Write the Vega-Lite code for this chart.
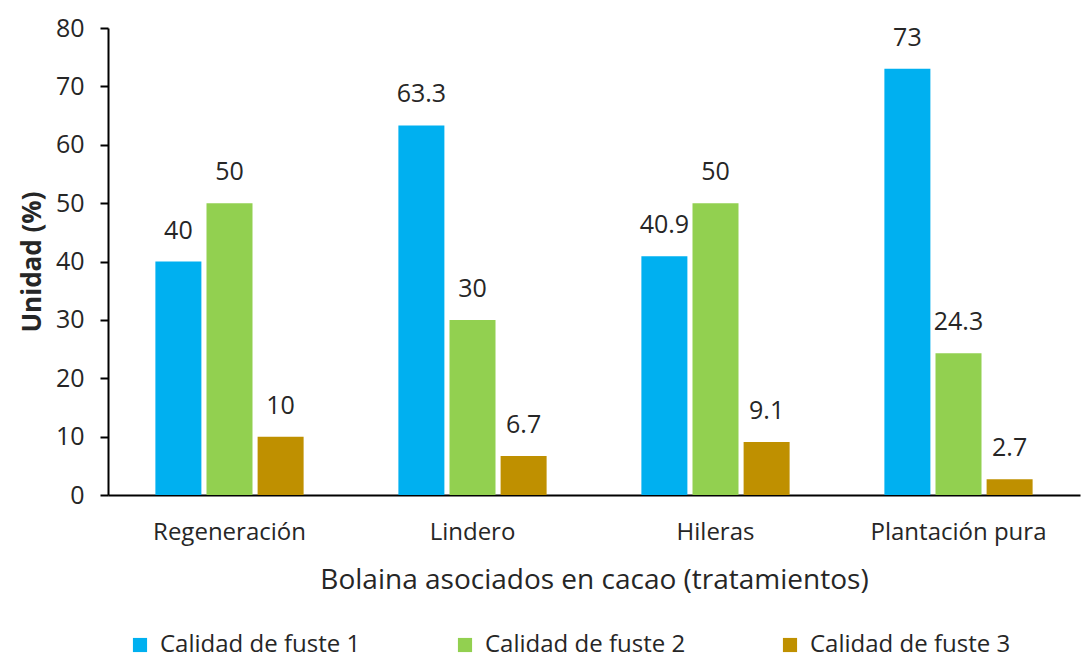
{
  "$schema": "https://vega.github.io/schema/vega-lite/v6.json",
  "width": 972,
  "height": 467,
  "autosize": {"type": "none"},
  "padding": {"left": 108, "top": 28, "right": 6, "bottom": 164},
  "background": "white",
  "config": {
    "font": "Open Sans",
    "view": {"stroke": null},
    "axis": {"labelFont": "Open Sans", "titleFont": "Open Sans", "labelColor": "#262626", "titleColor": "#262626", "titleFontWeight": "normal", "grid": false, "domainColor": "#000000", "tickColor": "#000000", "domainWidth": 2, "tickWidth": 2},
    "legend": {"labelFont": "Open Sans"}
  },
  "data": {
    "values": [
      {"trat": "Regeneración", "serie": "Calidad de fuste 1", "valor": 40},
      {"trat": "Regeneración", "serie": "Calidad de fuste 2", "valor": 50},
      {"trat": "Regeneración", "serie": "Calidad de fuste 3", "valor": 10},
      {"trat": "Lindero", "serie": "Calidad de fuste 1", "valor": 63.3},
      {"trat": "Lindero", "serie": "Calidad de fuste 2", "valor": 30},
      {"trat": "Lindero", "serie": "Calidad de fuste 3", "valor": 6.7},
      {"trat": "Hileras", "serie": "Calidad de fuste 1", "valor": 40.9},
      {"trat": "Hileras", "serie": "Calidad de fuste 2", "valor": 50},
      {"trat": "Hileras", "serie": "Calidad de fuste 3", "valor": 9.1},
      {"trat": "Plantación pura", "serie": "Calidad de fuste 1", "valor": 73},
      {"trat": "Plantación pura", "serie": "Calidad de fuste 2", "valor": 24.3},
      {"trat": "Plantación pura", "serie": "Calidad de fuste 3", "valor": 2.7}
    ]
  },
  "encoding": {
    "x": {
      "field": "trat", "type": "nominal", "sort": null,
      "scale": {"paddingInner": 0.39, "paddingOuter": 0.195},
      "axis": {"title": "Bolaina asociados en cacao (tratamientos)", "labelAngle": 0, "labelFontSize": 24, "labelLimit": 400, "titleFontSize": 28, "ticks": false, "labelPadding": 25, "titlePadding": 22}
    },
    "xOffset": {"field": "serie", "type": "nominal", "scale": {"paddingInner": 0.1}},
    "y": {
      "field": "valor", "type": "quantitative",
      "scale": {"domain": [0, 80]},
      "axis": {"title": "Unidad (%)", "titleFontWeight": "bold", "values": [0,10,20,30,40,50,60,70,80], "labelFontSize": 25, "titleFontSize": 26, "tickSize": 8, "labelPadding": 16, "titlePadding": 10}
    }
  },
  "layer": [
    {
      "mark": {"type": "bar"},
      "encoding": {
        "color": {
          "field": "serie", "type": "nominal",
          "scale": {"domain": ["Calidad de fuste 1", "Calidad de fuste 2", "Calidad de fuste 3"], "range": ["#00B0F0", "#92D050", "#BF9000"]},
          "legend": {"title": null, "orient": "none", "legendX": 20, "legendY": 605, "direction": "horizontal", "labelFontSize": 24, "labelColor": "#262626", "labelLimit": 400, "symbolType": "square", "symbolSize": 200, "symbolStrokeWidth": 0, "columnPadding": 92, "labelOffset": 8}
        }
      }
    },
    {
      "mark": {"type": "text", "baseline": "alphabetic", "dy": -23, "fontSize": 25, "color": "#262626", "font": "Open Sans"},
      "encoding": {"text": {"field": "valor", "type": "quantitative"}}
    }
  ]
}
